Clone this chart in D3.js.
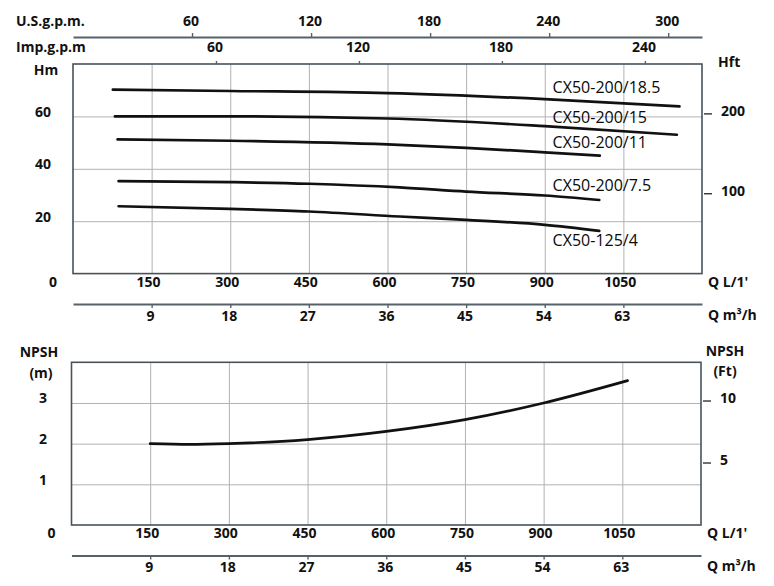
<!DOCTYPE html>
<html>
<head>
<meta charset="utf-8">
<script src="https://cdn.jsdelivr.net/npm/d3@7"></script>
<style>
  body { margin: 0; background: #fff; }
  svg text { font-family: "Open Sans", "DejaVu Sans", sans-serif; fill: #111; }
  .lbl { font-weight: 700; font-size: 14px; }
  .model { font-size: 16px; font-weight: 400; fill: #0a0a0a; }
  .grid line { stroke: #b2b2b2; stroke-width: 1; }
  .grid path { display: none; }
  .frame { fill: none; stroke: #4a5359; stroke-width: 1.6; }
  .scale path { stroke: #56626a; stroke-width: 2; }
  .scale line { stroke: #56626a; stroke-width: 1.4; }
  .curve { fill: none; stroke: #111; stroke-width: 2.7; stroke-linecap: round; }
</style>
</head>
<body>
<svg id="chart" width="774" height="586"></svg>
<script>
// tick values
var flowTicks = [150, 300, 450, 600, 750, 900, 1050];   // Q L/1'
var m3hTicks = [9, 18, 27, 36, 45, 54, 63];
var usgpmTicks = [60, 120, 180, 240, 300];
var impgpmTicks = [60, 120, 180, 240];
var headTicks = [20, 40, 60];
var headFtTicks = [100, 200];
var npshTicks = [1, 2, 3];
var npshFtTicks = [5, 10];

// head curves, Q in L/min, H in m
var models = ["CX50-200/18.5", "CX50-200/15", "CX50-200/11", "CX50-200/7.5", "CX50-125/4"];
var headFlow = [
  [76, 300, 600, 900, 1157],
  [80, 300, 600, 900, 1152],
  [85, 300, 600, 750, 900, 1005],
  [87, 300, 450, 623, 750, 900, 1004],
  [87, 300, 450, 623, 750, 900, 1004]
];
var headValues = [
  [70.2, 69.7, 68.9, 66.6, 63.8],
  [60.0, 60.0, 59.2, 56.3, 53.0],
  [51.2, 50.7, 49.3, 48.0, 46.3, 45.0],
  [35.3, 34.9, 34.3, 32.9, 31.3, 29.8, 28.1],
  [25.7, 24.7, 23.7, 21.8, 20.5, 18.6, 16.3]
];
var labelHead = [71.0, 59.6, 50.1, 33.7, 12.8];   // where each model name sits

// NPSH curve
var npshFlow = [150, 225, 300, 450, 600, 750, 900, 1060];
var npshValues = [2.0, 1.98, 2.0, 2.1, 2.3, 2.59, 3.0, 3.55];

var qMax = 1200
  , LMIN_PER_USGPM = 3.785
  , LMIN_PER_IMPGPM = 4.546
  , LMIN_PER_M3H = 1000 / 60
  , M_PER_FT = 0.3048
  ;

var svg = d3.select('#chart');

var hPanel = {
  x: d3.scaleLinear().domain([0, qMax]).range([73, 702]),
  y: d3.scaleLinear().domain([0, 80]).range([273.6, 64]),
  yTicks: headTicks, ftTicks: headFtTicks
};
var nPanel = {
  x: d3.scaleLinear().domain([0, qMax]).range([71.5, 701]),
  y: d3.scaleLinear().domain([0, 4]).range([525, 362.3]),
  yTicks: npshTicks, ftTicks: npshFtTicks
};

function label (x, y, txt, anchor, cls) {
  return svg.append('text')
      .attr('class', cls || 'lbl')
      .attr('x', x)
      .attr('y', y)
      .attr('dy', '0.35em')
      .attr('text-anchor', anchor || 'start')
      .text(txt);
}

function drawPanel (p) {
  var x = p.x, y = p.y
    , x0 = x.range()[0], x1 = x.range()[1]
    , y0 = y.range()[0], y1 = y.range()[1]
    ;

  // Grid
  svg.append('g')
      .attr('class', 'grid')
      .attr('transform', 'translate(0,' + y0 + ')')
      .call(d3.axisBottom(x).tickValues(flowTicks).tickSize(-(y0 - y1)).tickFormat(''));

  svg.append('g')
      .attr('class', 'grid')
      .attr('transform', 'translate(' + x0 + ',0)')
      .call(d3.axisLeft(y).tickValues(p.yTicks).tickSize(-(x1 - x0)).tickFormat(''));

  svg.append('rect')
      .attr('class', 'frame')
      .attr('x', x0).attr('y', y1)
      .attr('width', x1 - x0).attr('height', y0 - y1);

  // Q L/1' labels
  svg.append('g').selectAll('text')
      .data(flowTicks)
    .enter().append('text')
      .attr('class', 'lbl')
      .attr('x', function(d) { return x(d) - 3; })
      .attr('y', y0 + 8.5)
      .attr('dy', '0.35em')
      .attr('text-anchor', 'middle')
      .text(function(d) { return d; });
  label(x0 - 20, y0 + 8.5, '0', 'middle');
  label(x1 + 6, y0 + 8.5, "Q L/1'");

  // Q m3/h scale
  var m3h = d3.scaleLinear().domain([0, qMax / LMIN_PER_M3H]).range(x.range());
  svg.append('g')
      .attr('class', 'scale')
      .attr('transform', 'translate(0,' + (y0 + 30.5) + ')')
      .call(d3.axisBottom(m3h).tickValues(m3hTicks).tickSize(4).tickSizeOuter(0).tickFormat(''));
  svg.append('g').selectAll('text')
      .data(m3hTicks)
    .enter().append('text')
      .attr('class', 'lbl')
      .attr('x', function(d) { return m3h(d) - 1; })
      .attr('y', y0 + 42)
      .attr('dy', '0.35em')
      .attr('text-anchor', 'middle')
      .text(function(d) { return d; });
  label(x1 + 6, y0 + 41.5, 'Q m\u00b3/h');

  // left metres labels
  svg.append('g').selectAll('text')
      .data(p.yTicks)
    .enter().append('text')
      .attr('class', 'lbl')
      .attr('x', 43)
      .attr('y', function(d) { return y(d) - 4.5; })
      .attr('dy', '0.35em')
      .attr('text-anchor', 'middle')
      .text(function(d) { return d; });

  // right feet scale
  var yFt = d3.scaleLinear().domain(y.domain().map(function(d) { return d / M_PER_FT; })).range(y.range());
  var ft = svg.append('g').selectAll('g')
      .data(p.ftTicks)
    .enter().append('g');
  ft.append('line')
      .attr('x1', x1 + 2).attr('x2', x1 + 10)
      .attr('y1', function(d) { return yFt(d); })
      .attr('y2', function(d) { return yFt(d); })
      .attr('stroke', '#333').attr('stroke-width', 1.4);
  ft.append('text')
      .attr('class', 'lbl')
      .attr('x', x1 + 19)
      .attr('y', function(d) { return yFt(d) - 3; })
      .attr('dy', '0.35em')
      .text(function(d) { return d; });
}

drawPanel(hPanel);
drawPanel(nPanel);

// top flow scales
var us = d3.scaleLinear().domain([0, qMax / LMIN_PER_USGPM]).range(hPanel.x.range());
svg.append('g')
    .attr('class', 'scale')
    .attr('transform', 'translate(0,37)')
    .call(d3.axisTop(us).tickValues(usgpmTicks).tickSize(4).tickSizeOuter(0).tickFormat(''));
svg.append('g').selectAll('text')
    .data(usgpmTicks)
  .enter().append('text')
    .attr('class', 'lbl')
    .attr('x', function(d) { return us(d) - 1; })
    .attr('y', 21.5)
    .attr('dy', '0.35em')
    .attr('text-anchor', 'middle')
    .text(function(d) { return d; });
label(16, 21.5, 'U.S.g.p.m.');

var imp = d3.scaleLinear().domain([0, qMax / LMIN_PER_IMPGPM]).range(hPanel.x.range());
svg.append('g')
    .attr('class', 'scale')
    .attr('transform', 'translate(0,' + hPanel.y.range()[1] + ')')
    .call(d3.axisTop(imp).tickValues(impgpmTicks).tickSize(3).tickSizeOuter(0).tickFormat(''))
    .select('.domain').remove();
svg.append('g').selectAll('text')
    .data(impgpmTicks)
  .enter().append('text')
    .attr('class', 'lbl')
    .attr('x', function(d) { return imp(d) - 1; })
    .attr('y', 47)
    .attr('dy', '0.35em')
    .attr('text-anchor', 'middle')
    .text(function(d) { return d; });
label(16, 47, 'Imp.g.p.m');

label(46, 70, 'Hm', 'middle');
label(718, 62, 'Hft');
label(39, 352, 'NPSH', 'middle');
label(41, 373, '(m)', 'middle');
label(725, 351, 'NPSH', 'middle');
label(725, 371, '(Ft)', 'middle');

// Curves
var headLine = d3.line()
    .x(function(d) { return hPanel.x(d[0]); })
    .y(function(d) { return hPanel.y(d[1]); })
    .curve(d3.curveMonotoneX);

models.forEach(function(m, i) {
  var pts = d3.zip(headFlow[i], headValues[i]);
  svg.append('path')
      .attr('class', 'curve')
      .attr('d', headLine(pts));
  label(hPanel.x(915), hPanel.y(labelHead[i]), m, 'start', 'model');
});

var npshLine = d3.line()
    .x(function(d) { return nPanel.x(d[0]); })
    .y(function(d) { return nPanel.y(d[1]); })
    .curve(d3.curveMonotoneX);

svg.append('path')
    .attr('class', 'curve')
    .attr('d', npshLine(d3.zip(npshFlow, npshValues)));
</script>
</body>
</html>
